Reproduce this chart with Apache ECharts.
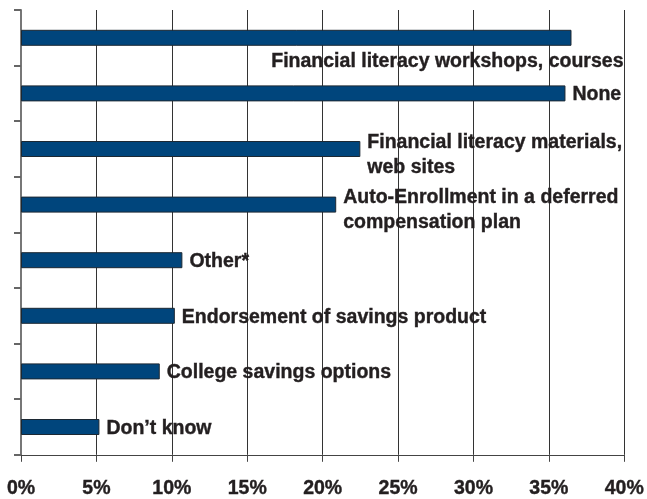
<!DOCTYPE html>
<html>
<head>
<meta charset="utf-8">
<script src="https://cdn.jsdelivr.net/npm/echarts@6/dist/echarts.min.js"></script>
<style>
  html, body { margin: 0; padding: 0; background: #fff; }
  #chart { width: 647px; height: 499px; }
</style>
</head>
<body>
<div id="chart"></div>
<script>
// categories top to bottom
const categories = [
  'Financial literacy workshops, courses',
  'None',
  'Financial literacy materials,\nweb sites',
  'Auto-Enrollment in a deferred\ncompensation plan',
  'Other*',
  'Endorsement of savings product',
  'College savings options',
  'Don\u2019t know'
]
const shares = [36.5, 36.1, 22.5, 20.9, 10.7, 10.2, 9.2, 5.2]
const xTicks = { min: 0, max: 40, step: 5 }

// per-bar label placement (first label sits under its bar, right aligned)
const labelTweaks = {
  0: { align: 'right', offset: [45, 24] },
  2: { offset: [0, 6] },
  3: { offset: [0, 6] }
}

const labelFont = {
  fontFamily: 'Liberation Sans',
  fontWeight: 'bold',
  fontSize: 19.5,
  color: '#231f20',
  textBorderColor: '#231f20',
  textBorderWidth: 0.4
}

const chart = echarts.init(document.getElementById('chart'))
chart.setOption({
  animation: false,
  grid: { left: 21, right: 19, top: 10, bottom: 42, containLabel: false },
  xAxis: {
    type: 'value',
    min: xTicks.min,
    max: xTicks.max,
    interval: xTicks.step,
    axisLine: { show: true, lineStyle: { color: '#444', width: 1 } },
    axisTick: { show: true, length: 7, lineStyle: { color: '#444' } },
    splitLine: { show: true, lineStyle: { color: '#333', width: 1 } },
    axisLabel: Object.assign({
      formatter: '{value}%',
      margin: 24
    }, labelFont)
  },
  yAxis: {
    type: 'category',
    inverse: true,
    data: categories,
    axisLine: { show: true, lineStyle: { color: '#777', width: 2 } },
    axisTick: { show: true, length: 7, lineStyle: { color: '#666', width: 2 } },
    axisLabel: { show: false }
  },
  series: [{
    type: 'bar',
    barWidth: 16,
    data: shares.map((v, i) => ({
      value: v,
      label: Object.assign({}, labelTweaks[i] || {})
    })),
    itemStyle: { color: '#00457c', borderColor: '#1c2833', borderWidth: 1 },
    label: Object.assign({
      show: true,
      position: 'right',
      distance: 7,
      offset: [0, 1.5],
      lineHeight: 25,
      formatter: p => categories[p.dataIndex]
    }, labelFont)
  }]
})
</script>
</body>
</html>
